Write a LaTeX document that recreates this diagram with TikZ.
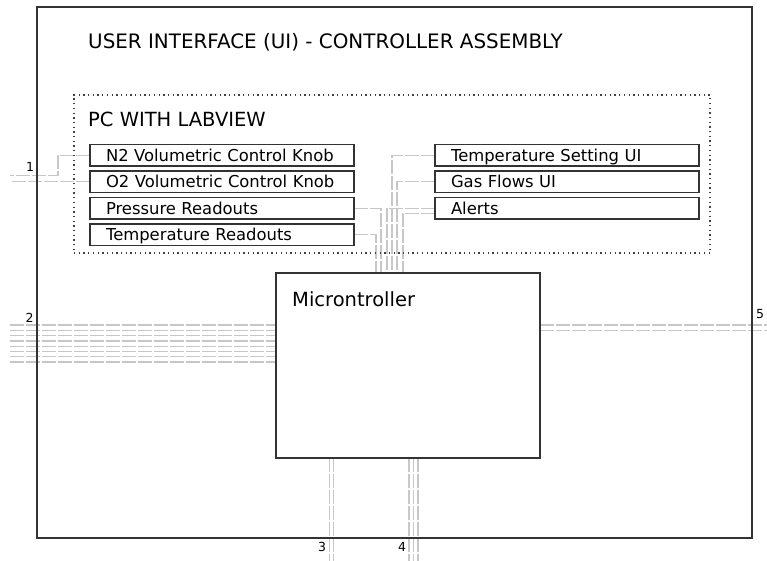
\documentclass[tikz,border=0pt]{standalone}
\usepackage{fontspec}
\setmainfont{DejaVu Sans}
\usetikzlibrary{backgrounds,calc}

\begin{document}
\begin{tikzpicture}[x=1pt,y=-1pt,
  wire/.style={draw=black!22, line width=1.3pt, dash pattern=on 14pt off 2pt},
  frameline/.style={draw=black!80, line width=1.4pt, outer sep=0pt},
  item/.style={frameline, fill=white, anchor=north west, minimum height=21.5pt,
    text width=232pt, inner xsep=16pt, inner ysep=0pt, align=left,
    font=\fontsize{16.4}{19}\selectfont, text=black, text height=13pt, text depth=1pt},
  heading/.style={anchor=base west, inner sep=0pt, font=\fontsize{19.5}{23}\selectfont, text=black},
  portnum/.style={inner sep=0pt, font=\fontsize{12.5}{14}\selectfont, text=black}
]
\useasboundingbox (0,0) rectangle (767,561);

% outer assembly frame and the PC group
\node[frameline, anchor=north west, minimum width=715pt, minimum height=531pt, inner sep=0pt] (frame) at (37,7) {};
\node[heading, font=\fontsize{19.9}{23}\selectfont] (title) at (88,49) {USER INTERFACE (UI) - CONTROLLER ASSEMBLY};
\node[draw=black!75, line width=1.2pt, dash pattern=on 1.3pt off 3.4pt, outer sep=0pt,
      anchor=north west, minimum width=636pt, minimum height=158pt, inner sep=0pt] (pc) at (74,95) {};
\node[heading] (pctitle) at (88,127) {PC WITH LABVIEW};

% LabVIEW front panel items
\node[item] (n2)     at (90,144.5) {N2 Volumetric Control Knob};
\node[item] (o2)     at (90,171)   {O2 Volumetric Control Knob};
\node[item] (pres)   at (90,197.5) {Pressure Readouts};
\node[item] (treads) at (90,224)   {Temperature Readouts};
\node[item] (tset)   at (435,144.5) {Temperature Setting UI};
\node[item] (gas)    at (435,171)   {Gas Flows UI};
\node[item] (alerts) at (435,197.5) {Alerts};

% microcontroller
\node[frameline, fill=white, anchor=north west, minimum width=264pt, minimum height=185pt, inner sep=0pt] (micro) at (276,273) {};
\node[heading] (microlabel) at (292,306) {Microntroller};

% external port ends
\coordinate (p1a) at (10,175.5);
\coordinate (p1b) at (10,181.75);
\foreach \i in {0,...,7} { \coordinate (p2-\i) at (10,325+5.3*\i); }
\coordinate (p5-0) at (767,325);
\coordinate (p5-1) at (767,330.5);
\coordinate (p3-0) at (329.5,561);
\coordinate (p3-1) at (333.5,561);
\coordinate (p4-0) at (409,561);
\coordinate (p4-1) at (413.5,561);
\coordinate (p4-2) at (418,561);

% port numbers
\node[portnum] (l1) at (30,167) {1};
\node[portnum] (l2) at (29.5,318) {2};
\node[portnum] (l5) at (760,314) {5};
\node[portnum] (l3) at (322,546.5) {3};
\node[portnum] (l4) at (402,546.5) {4};

% wiring, kept beneath the frames and boxes
\begin{scope}[on background layer]
  \draw[wire] (n2.west) -- ++(-32,0) |- (p1a);
  \draw[wire] (o2.west) -- (p1b);
  \draw[wire] (treads.east) -| ($(micro.north west)+(100,0)$);
  \draw[wire] (pres.east)   -| ($(micro.north west)+(105,0)$);
  \draw[wire] (alerts.west) -| ($(micro.north west)+(111,0)$);
  \draw[wire] (tset.west)   -| ($(micro.north west)+(116,0)$);
  \draw[wire] (gas.west)    -| ($(micro.north west)+(121,0)$);
  \draw[wire] ($(alerts.west)+(0,5)$) -| ($(micro.north west)+(127,0)$);
  \foreach \i in {0,...,7} { \draw[wire] (p2-\i) -- (p2-\i -| micro.west); }
  \foreach \i in {0,1} { \draw[wire] (p5-\i -| micro.east) -- (p5-\i); }
  \foreach \i in {0,1} { \draw[wire] (p3-\i |- micro.south) -- (p3-\i); }
  \foreach \i in {0,1,2} { \draw[wire] (p4-\i |- micro.south) -- (p4-\i); }
\end{scope}
\end{tikzpicture}
\end{document}
